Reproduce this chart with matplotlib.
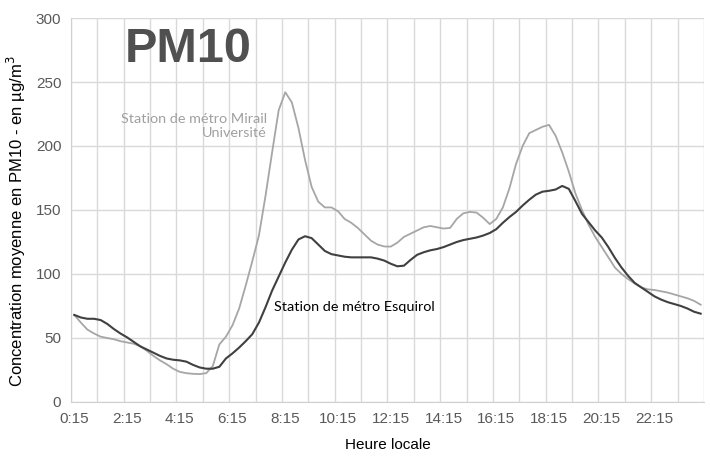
import numpy as np
import matplotlib.pyplot as plt

# Heure locale (h) : un point tous les quarts d'heure, de 0:15 à 24:00
hours = np.arange(0.25, 24.01, 0.25)

# Station de métro Esquirol (µg/m3), 4 valeurs par heure
esquirol = [68, 66, 65, 65,
            64, 61, 57, 53.5,
            50.5, 47, 43.5, 41,
            38.5, 36, 34, 33,
            32.5, 31.5, 29, 27,
            26, 26, 27.5, 34,
            38, 42.5, 47.5, 53,
            62, 74, 87, 98,
            109, 119, 127, 129.5,
            128, 123, 118, 115.5,
            114.5, 113.5, 113, 113,
            113, 113, 112, 110.5,
            108, 106, 106.5, 111,
            115, 117, 118.5, 119.5,
            121, 123, 125, 126.5,
            127.5, 128.5, 130, 132,
            135, 140, 144.5, 148.5,
            153.5, 158, 162, 164.3,
            165, 166, 168.8, 166.5,
            157, 147, 140.5, 134,
            128.5, 121, 112.5, 105,
            98.5, 93, 89.5, 86,
            82.5, 80, 78, 76.5,
            75, 73, 70.5, 69]

# Station de métro Mirail Université (µg/m3)
mirail = [68, 62, 56.5, 53.5,
          51, 50, 49, 47.5,
          46.5, 45.5, 43.5, 40,
          36, 32.5, 29.5, 26,
          23.5, 22.5, 22, 21.8,
          22.5, 28, 45, 51,
          60, 73, 91, 110,
          130, 161, 195, 228,
          242, 234, 214, 189,
          168, 156.5, 152, 152,
          149, 143, 140, 136,
          131, 126, 123, 121.5,
          121.4, 124.5, 129, 131.5,
          134, 136.5, 137.5, 136.5,
          135.5, 136, 143, 147.4,
          148.5, 148, 144, 139,
          143, 152, 167, 186,
          200, 210, 212.5, 215,
          216.5, 208, 195, 180,
          163, 150, 138.5, 129,
          121, 113, 105, 100,
          96, 92.5, 89.5, 88,
          87.5, 86.5, 85.5, 84,
          82.5, 81, 79, 76]

tick_hours = [0.25 + 2 * k for k in range(12)]
tick_labels = [f"{int(h)}:15" for h in tick_hours]

plt.rcParams['font.family'] = ['Liberation Sans', 'DejaVu Sans']

fig = plt.figure(figsize=(7.10, 4.57), dpi=100)
ax = fig.add_axes([0.1, 0.1204, 0.8915, 0.8402])

ax.plot(hours, mirail, color='#a6a6a6', lw=1.3, zorder=3)
ax.plot(hours, esquirol, color='#404040', lw=1.5, zorder=4)

# catégories centrées : grille entre les quarts d'heure
ax.set_xlim(0.125, 24.125)
ax.set_ylim(0, 300)
ax.set_xticks(tick_hours)
ax.set_xticklabels(tick_labels)
ax.set_xticks(np.arange(0.125, 24.13, 1.0), minor=True)
ax.set_yticks(range(0, 301, 50))

ax.grid(True, which='minor', axis='x', color='#d9d9d9', lw=1)
ax.grid(False, which='major', axis='x')
ax.grid(True, which='major', axis='y', color='#d9d9d9', lw=1)
ax.set_axisbelow(True)
ax.tick_params(which='both', length=0, labelsize=11, labelcolor='#595959', pad=7)

for s in ['top', 'right']:
    ax.spines[s].set_visible(False)
for s in ['left', 'bottom']:
    ax.spines[s].set_color('#d0d0d0')

ax.set_xlabel("Heure locale", fontsize=11, labelpad=9)
ax.set_ylabel("Concentration moyenne en PM10 - en µg/m$^3$", fontsize=12)
ax.yaxis.set_label_coords(-0.068, 0.47)

fig.text(125 / 710, 1 - 49 / 457, "PM10", family=['Liberation Sans', 'DejaVu Sans'],
         fontweight='bold', fontsize=35, color='#505050', va='center', ha='left')

fig.text(267 / 710, 1 - 126 / 457, "Station de métro Mirail\nUniversité", family=['Lato', 'DejaVu Sans'],
         fontsize=10.4, color='#a0a0a0', ha='right', va='center', linespacing=1.25, multialignment='right')
fig.text(274 / 710, 1 - 307 / 457, "Station de métro Esquirol", family=['Lato', 'DejaVu Sans'],
         fontsize=10.4, color='#000000', ha='left', va='center')

fig.savefig("out.png", dpi=100)
